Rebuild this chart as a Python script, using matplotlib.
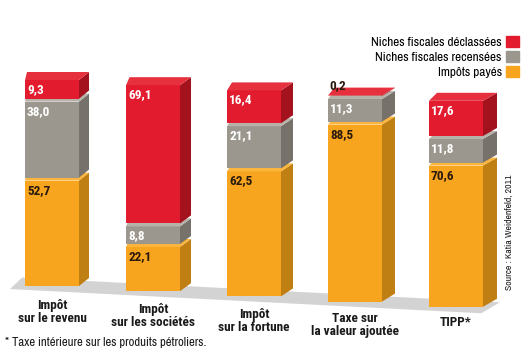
import numpy as np
import matplotlib.pyplot as plt
from matplotlib.patches import Polygon, Patch

categories = ["Impôt\nsur le revenu", "Impôt\nsur les sociétés", "Impôt\nsur la fortune",
              "Taxe sur\nla valeur ajoutée", "TIPP*"]
impots_payes = [52.7, 22.1, 62.5, 88.5, 70.6]
niches_recensees = [38.0, 8.8, 21.1, 11.3, 11.8]
niches_declassees = [9.3, 69.1, 16.4, 0.2, 17.6]
series_labels = ["Impôts payés", "Niches fiscales recensées", "Niches fiscales déclassées"]

# front, side, top, text colour
styles = [
    ("#f7a51e", "#c07f12", "#fbb53c", "#2a1a0e"),
    ("#9c978e", "#76726b", "#b6b1a9", "white"),
    ("#e21b2e", "#a3121d", "#e6303d", "white"),
]

bold_font = ["Roboto Condensed", "Fira Sans Condensed", "DejaVu Sans"]
narrow = ["Archivo Narrow", "Roboto Condensed", "DejaVu Sans"]
plt.rcParams["font.family"] = narrow

fig = plt.figure(figsize=(5.28, 3.51), dpi=100)
ax = fig.add_axes([0, 0, 1, 1])
ax.set_xlim(-0.515, 4.713)
ax.set_ylim(-32.5, 143)
ax.axis("off")

px_x = 1 / 101.0   # data units per pixel, horizontal
px_y = 0.5         # data units per pixel, vertical
width = 54 * px_x
drop = 2.6          # perspective drop of the baseline per bar
gap = 1.5
depth_y = 8 * px_y

x = np.arange(len(categories))

# floor
fx0, fx1 = -0.416, 4.25
bx0, bx1 = -0.297, 4.436
floor = Polygon([(fx0, -drop * fx0 - 2.6), (fx1, -drop * fx1 - 2.6),
                 (bx1, -drop * bx1 + 3.4), (bx0, -drop * bx0 + 3.4)],
                closed=True, facecolor="#d3d3d3", edgecolor="none", zorder=1)
ax.add_patch(floor)

series = [impots_payes, niches_recensees, niches_declassees]
for i in range(len(categories)):
    dxl = (2 + 1.5 * i) * px_x
    dxr = (10 + 1.0 * i) * px_x
    bottom = -drop * i
    xl = x[i] - width / 2
    xr = x[i] + width / 2
    for s, vals in enumerate(series):
        v = vals[i]
        front, side, top, tcol = styles[s]
        ax.bar(x[i], v, width, bottom=bottom, color=front, linewidth=0, zorder=2)
        y0, y1 = bottom, bottom + v
        ax.add_patch(Polygon([(xr, y0), (xr + dxr, y0 + depth_y), (xr + dxr, y1 + depth_y), (xr, y1)],
                             closed=True, facecolor=side, edgecolor="none", zorder=2))
        ax.add_patch(Polygon([(xl, y1), (xr, y1), (xr + dxr, y1 + depth_y), (xl + dxl, y1 + depth_y)],
                             closed=True, facecolor=top, edgecolor="none", zorder=2))
        label = "{:.1f}".format(v).replace(".", ",")
        if v < 3:
            ax.text(xl + 1 * px_x, y1 + 2.0, label, ha="left", va="bottom", fontsize=9.5,
                    family=bold_font, fontweight="bold", color="#2a1a0e", zorder=3)
        else:
            ax.text(xl + 2 * px_x, y1 - 1.5, label, ha="left", va="top", fontsize=9.5,
                    family=bold_font, fontweight="bold", color=tcol, zorder=3)
        bottom = y1 + gap

    ax.text(x[i], -6.5 - 2.15 * i, categories[i], ha="center", va="top", fontsize=9.5,
            family=bold_font, fontweight="bold", color="#1a1a1a", linespacing=1.0)

handles = [Patch(color=styles[2][0]), Patch(color=styles[1][0]), Patch(color=styles[0][0])]
ax.legend(handles, series_labels[::-1], loc="upper right",
          bbox_to_anchor=(519 / 528, 1 - 36 / 351), bbox_transform=fig.transFigure,
          markerfirst=False, frameon=False, prop={"family": narrow, "size": 9.5},
          handlelength=0.95, handleheight=0.95, handletextpad=0.35, labelspacing=0.2,
          borderpad=0, borderaxespad=0)

fig.text(509 / 528, 1 - 232 / 351, "Source : Katia Weidenfeld, 2011", rotation=90,
         ha="center", va="center", fontsize=7, color="#1a1a1a")
fig.text(5 / 528, 1 - 342 / 351, "* Taxe intérieure sur les produits pétroliers.",
         ha="left", va="center", fontsize=9.2, color="#1a1a1a")

fig.savefig("out.png", dpi=100)
